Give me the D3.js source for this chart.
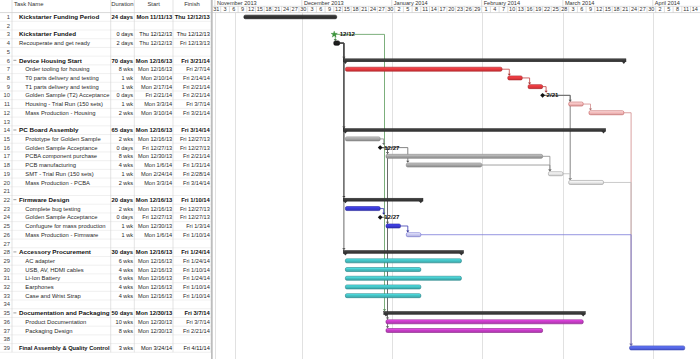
<!DOCTYPE html>
<html><head><meta charset="utf-8">
<script src="https://cdn.jsdelivr.net/npm/d3@7"></script>
<style>body{margin:0;background:#fff} svg{display:block;font-family:"Liberation Sans",Arial,sans-serif}</style>
</head><body><svg id="c" width="700" height="359"></svg>
<script>
// ---------------- DATA ----------------
const taskNames = ["Kickstarter Funding Period","","Kickstarter Funded","Recouperate and get ready","","Device Housing Start","Order tooling for housing","T0 parts delivery and testing","T1 parts delivery and testing","Golden Sample (T2) Acceptance","Housing - Trial Run (150 sets)","Mass Production - Housing","","PC Board Assembly","Prototype for Golden Sample","Golden Sample Acceptance","PCBA component purchase","PCB manufacturing","SMT - Trial Run (150 sets)","Mass Production - PCBA","","Firmware Design","Complete bug testing","Golden Sample Acceptance","Confugure for mass production","Mass Production - Firmware","","Accessory Procurement","AC adapter","USB, AV, HDMI cables","Li-Ion Battery","Earphones","Case and Wrist Strap","","Documentation and Packaging","Product Documentation","Packaging Design","","Final Assembly & Quality Control"];
const outlineLevel = [0,0,0,0,0,0,1,1,1,1,1,1,0,0,1,1,1,1,1,1,0,0,1,1,1,1,0,0,1,1,1,1,1,0,0,1,1,0,0];
const durations = ["24 days","","0 days","2 days","","70 days","8 wks","1 wk","1 wk","0 days","1 wk","2 wks","","65 days","2 wks","0 days","8 wks","4 wks","1 wk","2 wks","","20 days","2 wks","0 days","1 wk","1 wk","","30 days","6 wks","4 wks","6 wks","4 wks","4 wks","","50 days","10 wks","8 wks","","3 wks"];
const startLabels = ["Mon 11/11/13","","Thu 12/12/13","Thu 12/12/13","","Mon 12/16/13","Mon 12/16/13","Mon 2/10/14","Mon 2/17/14","Fri 2/21/14","Mon 3/3/14","Mon 3/10/14","","Mon 12/16/13","Mon 12/16/13","Fri 12/27/13","Mon 12/30/13","Mon 1/6/14","Mon 2/24/14","Mon 3/3/14","","Mon 12/16/13","Mon 12/16/13","Fri 12/27/13","Mon 12/30/13","Mon 1/6/14","","Mon 12/16/13","Mon 12/16/13","Mon 12/16/13","Mon 12/16/13","Mon 12/16/13","Mon 12/16/13","","Mon 12/30/13","Mon 12/30/13","Mon 12/30/13","","Mon 3/24/14"];
const finishLabels = ["Thu 12/12/13","","Thu 12/12/13","Fri 12/13/13","","Fri 3/21/14","Fri 2/7/14","Fri 2/14/14","Fri 2/21/14","Fri 2/21/14","Fri 3/7/14","Fri 3/21/14","","Fri 3/14/14","Fri 12/27/13","Fri 12/27/13","Fri 2/21/14","Fri 1/31/14","Fri 2/28/14","Fri 3/14/14","","Fri 1/10/14","Fri 12/27/13","Fri 12/27/13","Fri 1/3/14","Fri 1/10/14","","Fri 1/24/14","Fri 1/24/14","Fri 1/10/14","Fri 1/24/14","Fri 1/10/14","Fri 1/10/14","","Fri 3/7/14","Fri 3/7/14","Fri 2/21/14","","Fri 4/11/14"];
const barKinds = ["period","","star","prep","","summary","housing","housing","housing","milestone","housingLate","housingLate","","summary","pcb","milestone","pcb","pcb","pcbLate","pcbLate","","summary","firmware","milestone","firmware","firmwareLate","","summary","accessory","accessory","accessory","accessory","accessory","","summary","docs","docs","","final"];
const links = [[3,4],[3,35],[4,6],[4,14],[4,22],[4,28],[7,8],[8,9],[9,10],[10,11],[10,20],[11,12],[12,39],[15,16],[16,17],[16,18],[16,36],[16,37],[17,19],[18,19],[19,20],[20,39],[23,24],[24,25],[25,26],[26,39]];
const columnHeaders = ["Task Name","Duration","Start","Finish"];
const markerDates = ["2013-11-08"];

// ---------------- STYLE ----------------
const boldNameRows = new Set([1,3,6,14,22,28,35,39]);
const boldValueRows = new Set([1,6,14,22,28,35]);
const palette = {
  period:{fill:"#333333",stroke:"#111111",link:"#444"},
  prep:{fill:"#1e1e1e",stroke:"#000",link:"#444"},
  star:{fill:"#3c9a3c",stroke:"#2a7a2a",link:"#5a9a5a"},
  milestone:{fill:"#111",stroke:"#000",link:"#666"},
  summary:{fill:"#3a3a3a",stroke:"#222",link:"#444"},
  housing:{fill:"#e83a3f",stroke:"#a82226",link:"#c04040"},
  housingLate:{fill:"#f6bcbc",stroke:"#c45a5a",link:"#d08a8a"},
  pcb:{fill:"#a6a6a6",stroke:"#7d7d7d",link:"#8a8a8a"},
  pcbLate:{fill:"#ececec",stroke:"#9a9a9a",link:"#bdbdbd"},
  firmware:{fill:"#3b3bd6",stroke:"#22229a",link:"#3a3ab0"},
  firmwareLate:{fill:"#cacaf4",stroke:"#6a6ad0",link:"#7a7ad8"},
  accessory:{fill:"#45c2c4",stroke:"#237f84",link:"#4aa"},
  docs:{fill:"#c63dc6",stroke:"#862286",link:"#a4a"},
  final:{fill:"#5566e8",stroke:"#3040b0",link:"#44c"}
};

// ---------------- LAYOUT ----------------
const W = 700, H = 359;
const svg = d3.select("#c");
const ROW0 = 12.6, RH = 8.71, CHART_X = 212, PX_PER_DAY = 2.9;
const t0 = new Date(Date.UTC(2013,9,31)), t1 = new Date(Date.UTC(2014,3,17));
const x = d3.scaleUtc().domain([t0,t1]).range([CHART_X, CHART_X + d3.utcDay.count(t0,t1)*PX_PER_DAY]);
const yS = d3.scaleLinear().domain([1,40]).range([ROW0, ROW0 + 39*RH]);
const yc = i => yS(i) + RH/2;
const parse = d3.utcParse("%a %m/%d/%y");
const N = taskNames.length;
const rows = d3.range(1, N+1);
const sD = i => parse(startLabels[i-1]);
const eD = i => d3.utcDay.offset(parse(finishLabels[i-1]), 1);
const kind = i => barKinds[i-1];

const defs = svg.append("defs");
Object.entries(palette).forEach(([k,v])=>{
  const g = defs.append("linearGradient").attr("id","g_"+k).attr("x1",0).attr("x2",0).attr("y1",0).attr("y2",1);
  g.append("stop").attr("offset","0%").attr("stop-color", d3.color(v.fill).brighter(0.7).formatHex());
  g.append("stop").attr("offset","45%").attr("stop-color", v.fill);
  g.append("stop").attr("offset","100%").attr("stop-color", d3.color(v.fill).darker(0.4).formatHex());
});

// ---------- TABLE ----------
const colEdges = [12, 110.7, 134.3, 173, 211];
const tbl = svg.append("g");
tbl.selectAll("line.rl").data(d3.range(0, N+1)).join("line")
  .attr("x1",0).attr("x2",211).attr("y1",d=>yS(d+1)).attr("y2",d=>yS(d+1))
  .attr("stroke",(d)=> d===0 ? "#bdbdbd" : "#e6e6e6").attr("stroke-width",0.6);
tbl.selectAll("line.cl").data(colEdges).join("line")
  .attr("x1",d=>d).attr("x2",d=>d).attr("y1",0).attr("y2",yS(N+1))
  .attr("stroke","#d2d2d2").attr("stroke-width",0.6);
svg.append("rect").attr("x",211).attr("y",0).attr("width",1.7).attr("height",H).attr("fill","#bdbdbd");

const hdrX = [14, (colEdges[1]+colEdges[2])/2, (colEdges[2]+colEdges[3])/2, (colEdges[3]+colEdges[4])/2];
tbl.selectAll("text.h").data(columnHeaders).join("text")
  .attr("x",(d,i)=>hdrX[i]).attr("y",6.3).attr("text-anchor",(d,i)=>i===0?"start":"middle")
  .attr("font-size",5.9).attr("fill","#333").text(d=>d);

tbl.selectAll("text.n").data(rows).join("text")
  .attr("x",10).attr("y",d=>yc(d)+2.1).attr("text-anchor","end")
  .attr("font-size",5.8).attr("fill","#444").text(d=>d);

const nfw = r => boldNameRows.has(r) ? "bold" : "normal";
const nfs = r => boldNameRows.has(r) ? 6.25 : 5.85;
const vfw = r => boldValueRows.has(r) ? "bold" : "normal";
const vfs = r => boldValueRows.has(r) ? 5.85 : 5.6;
const tcol = r => boldNameRows.has(r) ? "#111" : "#2a2a2a";
const nameX = r => 19 + outlineLevel[r-1]*6.3;
tbl.selectAll("text.t").data(rows).join("text")
  .attr("x",nameX).attr("y",r=>yc(r)+2.1)
  .attr("font-size",nfs).attr("font-weight",nfw).attr("fill",tcol).text(r=>taskNames[r-1])
  .each(function(r){
    const maxW = colEdges[1] - nameX(r) - 1.2;
    if (this.getComputedTextLength() > maxW) d3.select(this).attr("textLength",maxW).attr("lengthAdjust","spacingAndGlyphs");
  });
tbl.selectAll("text.d").data(rows).join("text")
  .attr("x",133).attr("y",r=>yc(r)+2.1).attr("text-anchor","end")
  .attr("font-size",vfs).attr("font-weight",vfw).attr("fill",tcol).text(r=>durations[r-1]);
tbl.selectAll("text.s").data(rows).join("text")
  .attr("x",172.2).attr("y",r=>yc(r)+2.1).attr("text-anchor","end")
  .attr("font-size",vfs).attr("font-weight",vfw).attr("fill",tcol).text(r=>startLabels[r-1]);
tbl.selectAll("text.f").data(rows).join("text")
  .attr("x",209.8).attr("y",r=>yc(r)+2.1).attr("text-anchor","end")
  .attr("font-size",vfs).attr("font-weight",vfw).attr("fill",tcol).text(r=>finishLabels[r-1]);
tbl.selectAll("line.cs").data(rows.filter(r=>kind(r)==="summary")).join("line")
  .attr("x1",13.4).attr("x2",16.4).attr("y1",r=>yc(r)-0.2).attr("y2",r=>yc(r)-0.2)
  .attr("stroke","#777").attr("stroke-width",0.7);

// ---------- TIMESCALE ----------
const ts = svg.append("g");
const months = d3.utcMonth.range(d3.utcMonth.ceil(t0), t1);
const cells = d3.range(0, Math.ceil(d3.utcDay.count(t0,t1)/3)).map(k=>d3.utcDay.offset(t0, 3*k));
ts.append("line").attr("x1",CHART_X).attr("x2",W).attr("y1",6.3).attr("y2",6.3).attr("stroke","#cfcfcf").attr("stroke-width",0.6);
ts.append("line").attr("x1",CHART_X).attr("x2",W).attr("y1",ROW0).attr("y2",ROW0).attr("stroke","#bdbdbd").attr("stroke-width",0.6);
ts.selectAll("line.mb").data(months).join("line")
  .attr("x1",d=>x(d)).attr("x2",d=>x(d)).attr("y1",0).attr("y2",6.3).attr("stroke","#c8c8c8").attr("stroke-width",0.6);
ts.selectAll("text.m").data(months).join("text")
  .attr("x",d=>x(d)+2).attr("y",5.2).attr("font-size",5.6).attr("fill","#333").text(d3.utcFormat("%B %Y"));
ts.selectAll("line.cb").data(cells).join("line")
  .attr("x1",d=>x(d)).attr("x2",d=>x(d)).attr("y1",6.3).attr("y2",ROW0).attr("stroke","#c8c8c8").attr("stroke-width",0.6);
ts.selectAll("text.dd").data(cells).join("text")
  .attr("x",d=>x(d)+1.5*PX_PER_DAY).attr("y",11.3).attr("text-anchor","middle")
  .attr("font-size",5.5).attr("fill","#333").text(d=>d.getUTCDate());

const body = svg.append("g");
body.selectAll("line.g").data(months.concat(markerDates.map(s=>d3.utcParse("%Y-%m-%d")(s)))).join("line")
  .attr("x1",d=>Math.round(x(d))+0.5).attr("x2",d=>Math.round(x(d))+0.5).attr("y1",ROW0).attr("y2",H)
  .attr("stroke","#d9d9d9").attr("stroke-width",0.8);

// ---------- LINKS ----------
const mx = i => x(eD(i));
const predX = i => kind(i)==="star" ? mx(i)-2.5 : mx(i);
const topOf = i => kind(i)==="summary" ? yc(i)-1.8 : (kind(i)==="milestone" ? yc(i)-2.6 : yc(i)-2.2);
const lg = svg.append("g");
links.forEach(([p,s])=>{
  const pe = predX(p);
  const xs = x(sD(s));
  let vx;
  if (kind(p)==="star"||kind(p)==="milestone") vx = Math.max(kind(s)==="summary"? xs-1.5 : xs+1.5, pe);
  else vx = Math.max(kind(s)==="summary"? xs-1.5 : xs+1.5, pe+3.5);
  const yt = topOf(s);
  const col = palette[kind(p)].link;
  lg.append("path").attr("d",`M${pe},${yc(p)}H${vx}V${yt-1.6}`)
    .attr("fill","none").attr("stroke",col).attr("stroke-width",0.8);
  lg.append("path").attr("d",`M${vx-1.6},${yt-2}L${vx+1.6},${yt-2}L${vx},${yt}Z`).attr("fill",d3.color(col).darker(0.5));
});

// ---------- BARS ----------
const bg = svg.append("g");
rows.forEach(r=>{
  const k = kind(r); if(!k) return;
  const c = yc(r), p = palette[k];
  if (k==="summary") {
    const a = x(sD(r)), b = x(eD(r));
    bg.append("rect").attr("x",a-2.2).attr("y",c-1.7).attr("width",b-a+4.4).attr("height",3).attr("fill","url(#g_summary)").attr("stroke","#1a1a1a").attr("stroke-width",0.4);
    [a,b].forEach(v=>bg.append("path").attr("d",`M${v-2.4},${c+0.6}L${v+2.4},${c+0.6}L${v},${c+3.4}Z`).attr("fill","#333"));
  } else if (k==="milestone") {
    const m = mx(r);
    bg.append("path").attr("d",`M${m},${c-2.4}L${m+2.4},${c}L${m},${c+2.4}L${m-2.4},${c}Z`).attr("fill","#111");
    bg.append("text").attr("x",m+4).attr("y",c+2.1).attr("font-size",6.1).attr("font-weight","bold").attr("fill","#111").text(d3.utcFormat("%-m/%-d")(parse(finishLabels[r-1])));
  } else if (k==="star") {
    const m = predX(r);
    bg.append("path").attr("transform",`translate(${m},${c})`).attr("d",d3.symbol(d3.symbolStar,13)()).attr("fill",p.fill).attr("stroke",p.stroke).attr("stroke-width",0.3);
    bg.append("text").attr("x",m+5.5).attr("y",c+2.1).attr("font-size",6.1).attr("font-weight","bold").attr("fill","#111").text(d3.utcFormat("%-m/%-d")(parse(finishLabels[r-1])));
  } else {
    const a = x(sD(r)), b = x(eD(r));
    const h = k==="prep" ? 4.4 : (k==="period" ? 3.6 : 4);
    bg.append("rect").attr("x",a).attr("y",c-h/2).attr("width",b-a).attr("height",h)
      .attr("rx",1.5).attr("fill",`url(#g_${k})`).attr("stroke",p.stroke).attr("stroke-width",0.6);
  }
});
</script></body></html>
